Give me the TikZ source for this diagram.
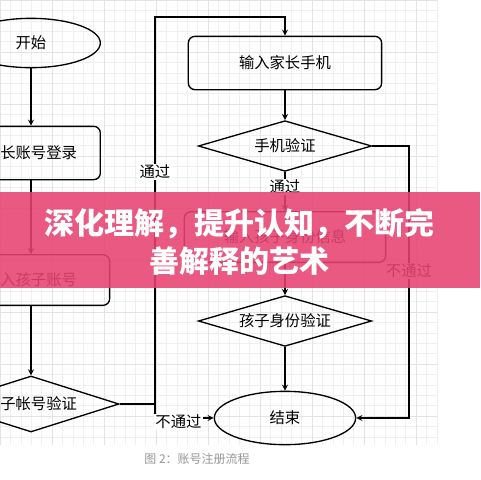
\documentclass[tikz,border=0pt]{standalone}
\usepackage{fontspec}
\setmainfont{Noto Sans CJK SC}
\usetikzlibrary{%
  arrows,%
  calc,%
  shapes.geometric%
}
\tikzset{>=stealth}
\definecolor{bannerpink}{RGB}{231,67,113}
\definecolor{capgray}{RGB}{150,150,150}
\tikzset{
  flowline/.style={line width=1pt},
  boxnode/.style={draw,line width=1pt,rounded corners=5pt,inner sep=0pt},
  ovalnode/.style={draw,ellipse,line width=1pt,inner sep=0pt},
  dianode/.style={draw,diamond,line width=1pt,inner sep=0pt},
  lblnode/.style={fill=white,inner sep=1pt}
}

\begin{document}
\begin{tikzpicture}[x=0.75pt,y=-0.75pt,font=\fontsize{11.5}{13}\selectfont]
        \useasboundingbox (0,0) rectangle (480,480);
        \fill[white] (0,0) rectangle (480,480);
        \foreach \i in {0,...,42} \draw[black!6,line width=0.4pt] ({\i*10.4},0) -- ({\i*10.4},445);
        \foreach \i in {0,...,42} \draw[black!6,line width=0.4pt] (0,{\i*10.4}) -- (437,{\i*10.4});
        \foreach \i in {0,...,8} \draw[black!11,line width=0.5pt] ({\i*52},0) -- ({\i*52},445) (0,{\i*52}) -- (437,{\i*52});

        \node[ovalnode,minimum width=104,minimum height=37] (start) at (31,43) {开始};
        \node[boxnode,minimum width=104,minimum height=40] (login) at (31,153) {家长账号登录};
        \node[boxnode,minimum width=118,minimum height=38] (kidacct) at (31,280) {输入孩子账号};
        \node[dianode,minimum width=132,minimum height=42,label=center:孩子帐号验证] (chkacct) at (31,404) {};
        \node[boxnode,minimum width=145,minimum height=40] (phone) at (285,63) {输入家长手机};
        \node[dianode,minimum width=130,minimum height=38,label=center:手机验证] (chkphone) at (285,146) {};
        \node[boxnode,minimum width=151,minimum height=38] (kidinfo) at (285,237) {输入孩子身份信息};
        \node[dianode,minimum width=130,minimum height=38,label=center:孩子身份验证] (chkkid) at (285,321) {};
        \node[ovalnode,minimum width=106,minimum height=40] (finish) at (285,418) {结束};

        \coordinate (jn) at (155,404);
        \coordinate (tp) at (155,17);
        \coordinate (rt) at (409,146);

        \draw[flowline,->] (start) -- (login);
        \draw[flowline,->] (login) -- (kidacct);
        \draw[flowline,->] (kidacct) -- (chkacct);
        \draw[flowline,->] (chkacct.east) -- (jn) -- node[lblnode,pos=0.6] {通过} (tp) -| (phone.north);
        \draw[flowline,->] (jn) |- node[lblnode,pos=0.7,yshift=-3pt] {不通过} (finish.west);
        \draw[flowline,->] (phone) -- (chkphone);
        \draw[flowline,->] (chkphone) -- node[lblnode,pos=0.38] {通过} (kidinfo);
        \draw[flowline,->] (chkphone.east) -- (rt) |- node[lblnode,pos=0.23] {不通过} (finish.east);
        \draw[flowline,->] (kidinfo) -- (chkkid);
        \draw[flowline,->] (chkkid) -- (finish);

        \node[capgray,font=\fontsize{9}{11}\selectfont] (caption) at (197,459) {图 2：账号注册流程};

        \fill[bannerpink,opacity=0.88] (0,192) rectangle (480,288);
        \node[white,align=center,font=\fontsize{22.5}{29}\selectfont\bfseries] (banner) at (240,242)
        {深化理解，提升认知，不断完\\善解释的艺术};
      \end{tikzpicture}
\end{document}
